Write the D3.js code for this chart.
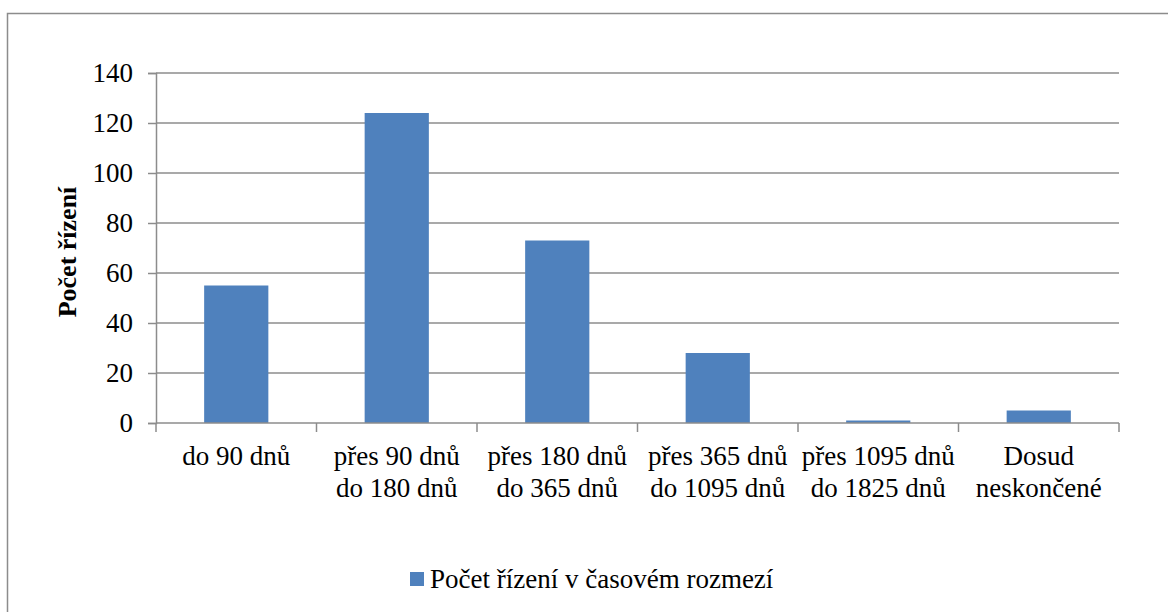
<!DOCTYPE html>
<html>
<head>
<meta charset="utf-8">
<script src="https://cdn.jsdelivr.net/npm/d3@7"></script>
<style>
    body { margin: 0; background: #fff; }
    svg { display: block; }
    text { font-family: "Times New Roman", "Liberation Serif", Tinos, "DejaVu Serif", serif; }
</style>
</head>
<body>
<svg id="chart" width="1168" height="612"></svg>
<script>
// data
let categories = [
    ["do 90 dnů"],
    ["přes 90 dnů", "do 180 dnů"],
    ["přes 180 dnů", "do 365 dnů"],
    ["přes 365 dnů", "do 1095 dnů"],
    ["přes 1095 dnů", "do 1825 dnů"],
    ["Dosud", "neskončené"]
];
let counts = [55, 124, 73, 28, 1, 5];
let yTicks = [0, 20, 40, 60, 80, 100, 120, 140];
let seriesName = "Počet řízení v časovém rozmezí";
let yTitle = "Počet řízení";

let svg = d3.select("#chart");
let gridColor = "#8c8c8c";
let barColor = "#4f81bd";
let fontStack = "'Times New Roman', 'Liberation Serif', Tinos, 'DejaVu Serif', serif";

let plotLeft = 156, plotRight = 1119, plotTop = 73, plotBottom = 423;

// outer frame (runs off the right and bottom of the picture)
svg.append("rect")
    .attr("x", 7.5).attr("y", 13.5)
    .attr("width", 1200).attr("height", 700)
    .attr("fill", "none")
    .attr("stroke", gridColor)
    .attr("stroke-width", 1.5);

let xScale = d3.scaleBand()
    .domain(d3.range(categories.length))
    .range([plotLeft, plotRight])
    .paddingInner(0.6)
    .paddingOuter(0.3);

let yScale = d3.scaleLinear()
    .domain([0, 140])
    .range([plotBottom, plotTop]);

//gridlines
svg.append("g")
    .selectAll("line")
    .data(yTicks.filter(d => d > 0))
    .enter().append("line")
    .attr("x1", plotLeft).attr("x2", plotRight)
    .attr("y1", d => yScale(d)).attr("y2", d => yScale(d))
    .attr("stroke", gridColor)
    .attr("stroke-width", 1.5);

//draw yAxis
let yAxis = d3.axisLeft(yScale)
    .tickValues(yTicks)
    .tickSize(8)
    .tickPadding(15);
let yg = svg.append("g")
    .attr("transform", "translate(" + plotLeft + ",0)")
    .call(yAxis)
    .attr("font-family", null)
    .attr("font-size", null);
yg.select(".domain").attr("stroke", gridColor).attr("stroke-width", 1.5);
yg.selectAll(".tick line").attr("stroke", gridColor).attr("stroke-width", 1.5);
yg.selectAll(".tick text")
    .attr("fill", "#000")
    .style("font-family", fontStack)
    .style("font-size", "27px");

//draw bars
svg.append("g")
    .selectAll("rect")
    .data(counts)
    .enter().append("rect")
    .attr("x", (d, i) => xScale(i))
    .attr("y", d => yScale(d))
    .attr("width", xScale.bandwidth())
    .attr("height", d => plotBottom - yScale(d))
    .attr("fill", barColor);

//draw xAxis line and category ticks
let step = xScale.step();
let xg = svg.append("g");
xg.append("line")
    .attr("x1", plotLeft).attr("x2", plotRight)
    .attr("y1", plotBottom).attr("y2", plotBottom)
    .attr("stroke", gridColor)
    .attr("stroke-width", 1.5);
xg.selectAll("line.tick")
    .data(d3.range(categories.length + 1))
    .enter().append("line")
    .attr("class", "tick")
    .attr("x1", i => plotLeft + i * step).attr("x2", i => plotLeft + i * step)
    .attr("y1", plotBottom).attr("y2", plotBottom + 9)
    .attr("stroke", gridColor)
    .attr("stroke-width", 1.5);

let labels = xg.selectAll("text")
    .data(categories)
    .enter().append("text")
    .attr("text-anchor", "middle")
    .style("font-family", fontStack)
    .style("font-size", "27px")
    .attr("fill", "#000");
labels.each(function (lines, i) {
    let t = d3.select(this);
    lines.forEach((line, j) => {
        t.append("tspan")
            .attr("x", xScale(i) + xScale.bandwidth() / 2)
            .attr("y", 465 + j * 32)
            .text(line);
    });
});

//y axis title
svg.append("text")
    .attr("transform", "translate(76,252) rotate(-90)")
    .attr("text-anchor", "middle")
    .style("font-family", fontStack)
    .style("font-size", "26px")
    .style("font-weight", "bold")
    .attr("fill", "#000")
    .text(yTitle);

//legend
let legend = svg.append("g");
legend.append("rect")
    .attr("x", 410).attr("y", 572)
    .attr("width", 14).attr("height", 14)
    .attr("fill", barColor);
legend.append("text")
    .attr("x", 430).attr("y", 588)
    .style("font-family", fontStack)
    .style("font-size", "27px")
    .attr("fill", "#000")
    .text(seriesName);
</script>
</body>
</html>
